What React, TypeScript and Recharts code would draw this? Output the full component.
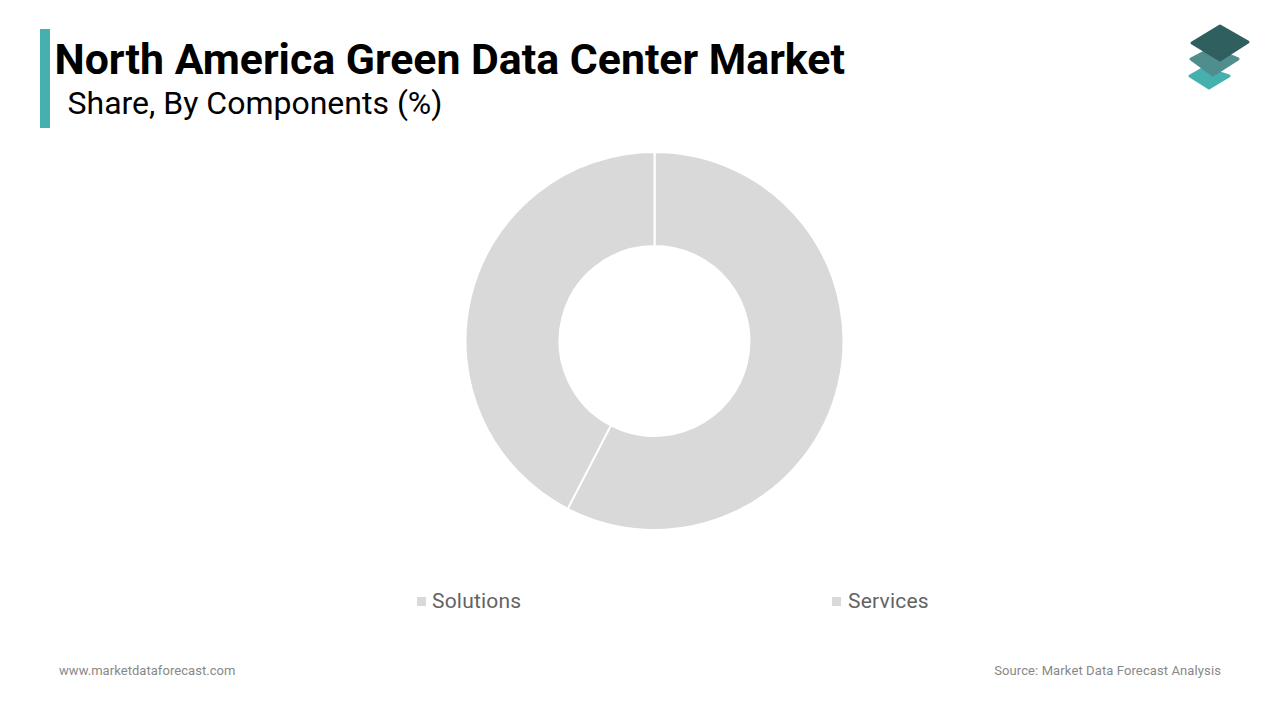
import React from "react";
import { PieChart, Pie, Cell, Legend } from "recharts";

const categories = ["Solutions", "Services"];
const shares = [57.6, 42.4];
const sliceColors = ["#d9d9d9", "#d9d9d9"];
const titleText = "North America Green Data Center Market";
const subtitleText = "Share, By Components (%)";
const siteText = "www.marketdataforecast.com";
const sourceText = "Source: Market Data Forecast Analysis";

const data = categories.map((name, i) => ({ name, value: shares[i] }));
const font = "Roboto, sans-serif";

const legendLeft = [417, 832];
const legendGap = [6, 7];

function LegendContent() {
  return (
    <div style={{ position: "relative", width: 1280, height: 30 }}>
      {categories.map((c, i) => (
        <div key={c} style={{ position: "absolute", left: legendLeft[i], top: 0, display: "flex", alignItems: "center", height: 30 }}>
          <span style={{ display: "inline-block", width: 9, height: 9, background: sliceColors[i], marginRight: legendGap[i] }} />
          <span style={{ fontFamily: font, fontSize: 21, color: "#636363", whiteSpace: "nowrap", letterSpacing: 0.2 }}>{c}</span>
        </div>
      ))}
    </div>
  );
}

export default function App() {
  return (
    <div style={{ position: "absolute", left: 0, top: 0, width: 1280, height: 720, background: "#fff", overflow: "hidden" }}>
      <div style={{ position: "absolute", left: 40, top: 29, width: 10, height: 99, background: "#45b0ae" }} />
      <div style={{ position: "absolute", left: 54.5, top: 35, fontFamily: font, fontWeight: 700, fontSize: 42.8, lineHeight: "48px", color: "#000", whiteSpace: "nowrap" }}>{titleText}</div>
      <div style={{ position: "absolute", left: 67.5, top: 83.5, fontFamily: font, fontSize: 32, lineHeight: "38px", color: "#000", whiteSpace: "nowrap" }}>{subtitleText}</div>
      <svg style={{ position: "absolute", left: 0, top: 0 }} width={1280} height={720}>
        <polygon points="1190,76 1204,68 1229,76 1209,88" fill="#45b0ae" stroke="#45b0ae" strokeLinejoin="round" strokeWidth={3} />
        <polygon points="1191,59 1212,48 1238,59 1213,75" fill="#4f8e8c" stroke="#4f8e8c" strokeLinejoin="round" strokeWidth={3} />
        <polygon points="1192,43 1220,26 1248,42 1220,60" fill="#2f5f5e" stroke="#2f5f5e" strokeLinejoin="round" strokeWidth={3} />
      </svg>
      <div style={{ position: "absolute", left: 0, top: 0 }}>
        <PieChart width={1280} height={720} margin={{ top: 0, right: 0, bottom: 0, left: 0 }}>
          <Pie
            data={data}
            dataKey="value"
            nameKey="name"
            cx={654.5}
            cy={341}
            innerRadius={95}
            outerRadius={189}
            startAngle={90}
            endAngle={-270}
            stroke="#ffffff"
            strokeWidth={2}
            isAnimationActive={false}
          >
            {data.map((d, i) => (
              <Cell key={d.name} fill={sliceColors[i]} />
            ))}
          </Pie>
          <Legend content={<LegendContent />} wrapperStyle={{ left: 0, top: 586, width: 1280 }} />
        </PieChart>
      </div>
      <div style={{ position: "absolute", left: 59, top: 662, fontFamily: font, fontSize: 13, lineHeight: "17px", color: "#888888", whiteSpace: "nowrap", letterSpacing: 0.05 }}>{siteText}</div>
      <div style={{ position: "absolute", right: 59, top: 662, fontFamily: font, fontSize: 13, lineHeight: "17px", color: "#888888", whiteSpace: "nowrap", letterSpacing: 0.11 }}>{sourceText}</div>
    </div>
  );
}
